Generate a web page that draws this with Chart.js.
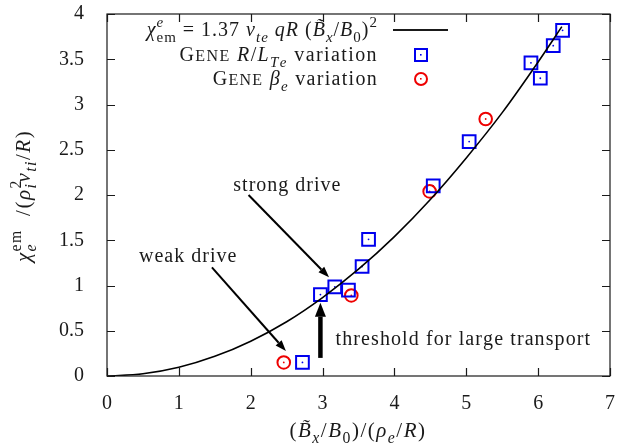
<!DOCTYPE html>
<html>
<head>
<meta charset="utf-8">
<script src="https://cdn.jsdelivr.net/npm/chart.js@4.4.0/dist/chart.umd.min.js"></script>
<style>
  html, body { margin: 0; padding: 0; background: #fff; }
  #wrap { width: 621px; height: 445px; }
</style>
</head>
<body>
<div id="wrap"><canvas id="myChart" width="621" height="445"></canvas></div>
<script>
// fit curve
const fitX = [0, 0.5, 1, 1.5, 2, 2.5, 3, 3.5, 4, 4.5, 5, 5.5, 6, 6.33];
const fitY = [0, 0.024, 0.096, 0.217, 0.385, 0.60, 0.867, 1.18, 1.54, 1.95, 2.41, 2.91, 3.47, 3.86];

// GENE R/L_Te variation
const lteX = [2.72, 2.97, 3.17, 3.36, 3.55, 3.64, 4.54, 5.04, 5.90, 6.03, 6.21, 6.34];
const lteY = [0.15, 0.90, 0.985, 0.95, 1.21, 1.51, 2.10, 2.59, 3.46, 3.29, 3.65, 3.82];

// GENE beta_e variation
const betaX = [2.46, 3.40, 4.49, 5.27];
const betaY = [0.15, 0.89, 2.04, 2.84];

const xTicks = [0, 1, 2, 3, 4, 5, 6, 7];
const yTicks = [0, 0.5, 1, 1.5, 2, 2.5, 3, 3.5, 4];

const SERIF = '"Liberation Serif", "DejaVu Serif", serif';
const INK = '#1a1a1a';
const BASE = 20;

function fnt(size, it) { return (it ? 'italic ' : '') + size + 'px ' + SERIF; }
const R = (t, s) => ({ t, s: s || 1 });
const I = (t) => ({ t, i: true });
const sub = (t, it) => ({ t, i: it, s: 0.75, dy: 0.28 });
const sup = (t, it, back) => ({ t, i: it, s: 0.75, dy: -0.45, back });

// split into chars, keeping combining marks with their base letter
const glyphs = t => t.match(/.[\u0300-\u036f]*/gu) || [];

// width of a string with extra space after every char
function spaced(ctx, t, sp) {
  let w = 0;
  for (const c of glyphs(t)) w += ctx.measureText(c).width + sp;
  return w;
}
function fillSpaced(ctx, t, x, y, sp) {
  for (const c of glyphs(t)) {
    ctx.fillText(c, x, y);
    x += ctx.measureText(c).width + sp;
  }
}

// draws a row of text pieces (sub/superscripts), returns width
function rich(ctx, parts, x, y, base, align, sp) {
  sp = sp || 0;
  let w = 0;
  const xs = [];
  parts.forEach(p => {
    ctx.font = fnt(base * (p.s || 1), p.i);
    const pw = spaced(ctx, p.t, sp);
    xs.push(w);
    if (!p.back) w += pw;
  });
  const x0 = align === 'right' ? x - w : align === 'center' ? x - w / 2 : x;
  ctx.textAlign = 'left';
  ctx.textBaseline = 'alphabetic';
  parts.forEach((p, k) => {
    ctx.font = fnt(base * (p.s || 1), p.i);
    fillSpaced(ctx, p.t, x0 + xs[k], y + (p.dy || 0) * base, sp);
  });
  return w;
}

function arrow(ctx, x1, y1, x2, y2, lw, hl, hw) {
  const a = Math.atan2(y2 - y1, x2 - x1);
  const bx = x2 - hl * Math.cos(a), by = y2 - hl * Math.sin(a);
  ctx.beginPath();
  ctx.lineWidth = lw;
  ctx.moveTo(x1, y1);
  ctx.lineTo(bx, by);
  ctx.stroke();
  ctx.beginPath();
  ctx.moveTo(x2, y2);
  ctx.lineTo(bx + hw * Math.sin(a), by - hw * Math.cos(a));
  ctx.lineTo(bx - hw * Math.sin(a), by + hw * Math.cos(a));
  ctx.closePath();
  ctx.fill();
}

const xy = (xs, ys) => xs.map((x, k) => ({ x, y: ys[k] }));

const decor = {
  id: 'decor',
  afterDraw(chart) {
    const { ctx, chartArea: a, scales: { x, y } } = chart;
    const px = v => x.getPixelForValue(v), py = v => y.getPixelForValue(v);
    ctx.save();
    ctx.strokeStyle = INK;
    ctx.fillStyle = INK;

    // frame and inward ticks on all sides
    ctx.lineWidth = 1.2;
    ctx.strokeRect(a.left, a.top, a.right - a.left, a.bottom - a.top);
    ctx.beginPath();
    xTicks.forEach(v => {
      const p = Math.round(px(v)) + 0.5;
      ctx.moveTo(p, a.bottom); ctx.lineTo(p, a.bottom - 8);
      ctx.moveTo(p, a.top); ctx.lineTo(p, a.top + 8);
    });
    yTicks.forEach(v => {
      const p = Math.round(py(v)) + 0.5;
      ctx.moveTo(a.left, p); ctx.lineTo(a.left + 8, p);
      ctx.moveTo(a.right, p); ctx.lineTo(a.right - 8, p);
    });
    ctx.stroke();

    // legend
    const lx = 378;
    rich(ctx, [I('χ'), sup('e', true, true), sub('em'), R(' = 1.37 '), I('v'), sub('te', true), R(' '), I('qR'), R(' ('),
      I('B\u0303'), sub('x', true), R('/'), I('B'), sub('0'), R(')'), sup('2')], lx, 36, BASE, 'right', 1);
    ctx.lineWidth = 2;
    ctx.beginPath(); ctx.moveTo(393, 30); ctx.lineTo(448, 30); ctx.stroke();

    rich(ctx, [R('G'), R('ENE', 0.8), R(' '), I('R'), R('/'), I('L'), sub('Te', true), R(' variation')], lx, 61, BASE, 'right', 1.4);
    ctx.strokeStyle = '#0000ee';
    ctx.lineWidth = 2;
    ctx.strokeRect(415, 49, 12, 12);
    ctx.fillStyle = '#0000ee';
    ctx.fillRect(420, 54, 1.6, 1.6);

    ctx.fillStyle = INK;
    rich(ctx, [R('G'), R('ENE', 0.8), R(' '), I('β'), sub('e', true), R(' variation')], lx, 85, BASE, 'right', 1.3);
    ctx.strokeStyle = '#ee0000';
    ctx.beginPath(); ctx.arc(421, 79, 6, 0, Math.PI * 2); ctx.stroke();
    ctx.fillStyle = '#ee0000';
    ctx.fillRect(420, 78, 1.6, 1.6);

    // annotations
    ctx.strokeStyle = '#000';
    ctx.fillStyle = '#000';
    arrow(ctx, px(1.97), py(2.00), px(3.09), py(1.09), 2, 11, 4);
    arrow(ctx, px(1.46), py(1.20), px(2.49), py(0.276), 2, 11, 4);
    arrow(ctx, px(2.97), py(0.20), px(2.97), py(0.81), 4.5, 14, 5.5);

    ctx.fillStyle = INK;
    rich(ctx, [R('strong drive')], px(2.51), py(2.04), BASE, 'center', 1);
    rich(ctx, [R('weak drive')], px(1.13), py(1.26), BASE, 'center', 1);
    rich(ctx, [R('threshold for large transport')], px(3.18), py(0.34), BASE, 'left', 1.1);

    // axis titles
    rich(ctx, [R('('), I('B\u0303'), sub('x', true), R('/'), I('B'), sub('0'), R(')/('), I('ρ'), sub('e', true), R('/'), I('R'), R(')')],
      358, 437, BASE + 1, 'center', 1.5);
    ctx.translate(30, 196);
    ctx.rotate(-Math.PI / 2);
    rich(ctx, [I('χ'), sup('em', false, true), sub('e', true), R('    /('), I('ρ'), sup('2', false, true), sub('i', true), I('v'), sub('ti', true),
      R('/'), I('R'), R(')')], 0, 0, BASE + 1, 'center', 1.5);
    ctx.restore();
  }
};

const chartContainer = document.getElementById('myChart');

const chartConfiguration = {
  type: 'scatter',
  data: {
    datasets: [
      {
        label: 'fit',
        data: xy(fitX, fitY),
        showLine: true,
        borderColor: '#000',
        borderWidth: 1.6,
        pointRadius: 0,
        cubicInterpolationMode: 'monotone',
      },
      {
        label: 'GENE R/LTe variation',
        data: xy(lteX, lteY),
        pointStyle: 'rect',
        pointRadius: 9,
        borderColor: '#0000ee',
        borderWidth: 2,
        backgroundColor: 'rgba(0,0,0,0)',
      },
      {
        label: 'GENE beta_e variation',
        data: xy(betaX, betaY),
        pointStyle: 'circle',
        pointRadius: 6.3,
        borderColor: '#ee0000',
        borderWidth: 2,
        backgroundColor: 'rgba(0,0,0,0)',
      },
      {
        label: 'dots',
        data: xy(lteX, lteY),
        pointRadius: 0.9,
        borderWidth: 0,
        backgroundColor: '#0000ee',
      },
      {
        label: 'dots2',
        data: xy(betaX, betaY),
        pointRadius: 0.9,
        borderWidth: 0,
        backgroundColor: '#ee0000',
      },
    ],
  },
  options: {
    responsive: false,
    animation: false,
    layout: { padding: { top: 14, right: 7, left: 0, bottom: 0 } },
    plugins: { legend: { display: false }, tooltip: { enabled: false } },
    scales: {
      x: {
        type: 'linear',
        min: 0, max: 7,
        afterFit: s => { s.height = 69; s.paddingLeft = 0; s.paddingRight = 0; },
        afterBuildTicks: s => { s.ticks = xTicks.map(v => ({ value: v })); },
        grid: { display: false },
        border: { display: false },
        ticks: { padding: 8, color: INK, font: { family: SERIF, size: BASE }, maxRotation: 0, callback: v => String(v) },
      },
      y: {
        type: 'linear',
        min: 0, max: 4,
        afterFit: s => { s.width = 107; s.paddingTop = 0; s.paddingBottom = 0; },
        afterBuildTicks: s => { s.ticks = yTicks.map(v => ({ value: v })); },
        grid: { display: false },
        border: { display: false },
        ticks: { padding: 15, color: INK, font: { family: SERIF, size: BASE }, callback: v => String(v) },
      },
    },
  },
  plugins: [decor],
};

const myChart = new Chart(chartContainer, chartConfiguration);
</script>
</body>
</html>
